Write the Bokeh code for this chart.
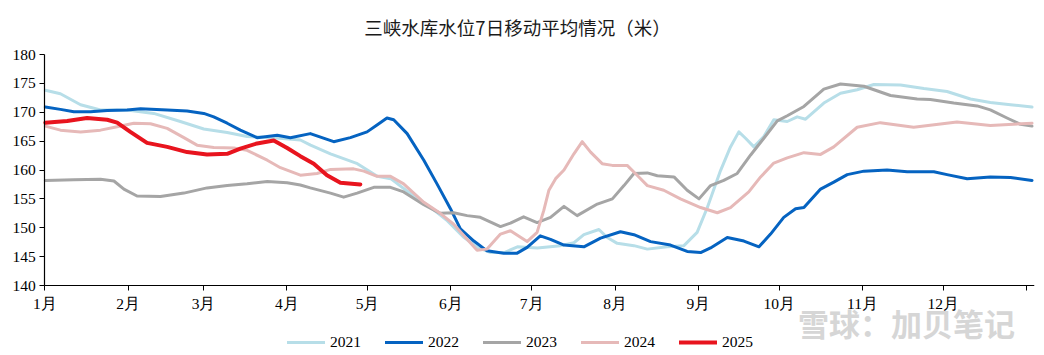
from bokeh.plotting import figure
from bokeh.models import FixedTicker, Legend, LegendItem, Label, Range1d
from bokeh.embed import file_html
from bokeh.resources import INLINE

# ---- data (day of year, 7-day moving average water level in metres) ----
month_labels = ["1月", "2月", "3月", "4月", "5月", "6月", "7月", "8月", "9月", "10月", "11月", "12月"]
month_start_days = [0, 31, 59, 90, 120, 151, 181, 212, 243, 273, 304, 334]
year_end_day = 365
y_ticks = [140, 145, 150, 155, 160, 165, 170, 175, 180]

days_2021 = [0.2, 5.8, 13.3, 20.7, 30.6, 40.5, 50.4, 59.1, 67.8, 75.2, 85.1, 95, 98.8, 106.2, 116.2,
             123.6, 128.6, 136, 143.5, 149.7, 155.9, 160.8, 165.8, 170.8, 175.7, 183.1, 191.7, 196.7,
             200.4, 206, 209.1, 212.8, 219, 224, 231.4, 237.6, 242.5, 246.3, 251.2, 254.9, 258, 260.5,
             263.6, 267.3, 271, 276, 279.7, 282.8, 289.6, 295.8, 302, 308.2, 318.1, 326.8, 335.4,
             344.1, 351.5, 359, 367]
level_2021 = [173.8, 173.2, 171.3, 170.4, 170.4, 169.8, 168.4, 167.1, 166.5, 165.8, 165.6, 165.2, 164.3,
              162.8, 161.1, 158.9, 158.5, 155.9, 153.5, 151.2, 148.3, 146.6, 145.7, 145.7, 146.7, 146.5,
              146.9, 147.4, 148.8, 149.7, 148.3, 147.3, 146.9, 146.3, 146.7, 146.9, 149.2, 153.5, 159.9,
              164.0, 166.6, 165.5, 164.0, 165.8, 168.7, 168.4, 169.2, 168.8, 171.6, 173.3, 173.9, 174.8,
              174.7, 174.1, 173.6, 172.3, 171.7, 171.3, 170.9]

days_2022 = [0.2, 5.8, 10.8, 17, 23.2, 30.6, 35.6, 45.5, 52.9, 59.1, 62.8, 67.8, 72.7, 78.9, 82.7, 86.4,
             91.3, 98.7, 107.4, 113.6, 119.8, 123.5, 127.2, 129.7, 134.7, 140.9, 145.8, 150.8, 154.5,
             159.5, 164.4, 170.6, 175.6, 179.3, 184.2, 188, 193, 200.4, 206.6, 214, 219, 225.2, 232.6,
             238.8, 243.8, 247.5, 253.7, 259.9, 265.5, 269.8, 274.7, 279.1, 282.2, 288.4, 293.3, 298.3,
             304.5, 313.1, 320.6, 330.5, 335.4, 342.9, 351.5, 359, 367]
level_2022 = [170.9, 170.5, 170.1, 170.1, 170.3, 170.4, 170.6, 170.4, 170.2, 169.8, 169.2, 168.1, 166.9,
              165.6, 165.8, 166.0, 165.6, 166.3, 164.9, 165.6, 166.6, 167.8, 169.0, 168.7, 166.3, 161.7,
              157.6, 153.3, 149.8, 147.7, 146.0, 145.6, 145.6, 146.6, 148.6, 148.0, 147.0, 146.7, 148.2,
              149.3, 148.8, 147.6, 147.0, 145.9, 145.7, 146.5, 148.3, 147.7, 146.7, 148.9, 151.8, 153.3,
              153.5, 156.7, 157.9, 159.2, 159.8, 160.0, 159.7, 159.7, 159.2, 158.5, 158.8, 158.7, 158.2]

days_2023 = [0.2, 10.8, 20.7, 25.7, 29.4, 34.3, 43, 51.7, 60.3, 67.8, 75.2, 82.7, 90.1, 95, 98.7, 106.2,
             111.1, 116.1, 122.3, 128.5, 133.4, 140.9, 147, 152, 157, 161.9, 169.4, 173.1, 178, 183, 188,
             193, 197.9, 205.4, 211, 215.3, 219, 224, 227.7, 233.9, 238.8, 243.2, 247.5, 252.4, 257.4,
             262.4, 267.3, 272.3, 276, 282.2, 289.6, 295.8, 304.5, 314.4, 324.3, 329.2, 337.9, 346.6,
             351.5, 357.7, 362.7, 367]
level_2023 = [158.2, 158.3, 158.4, 158.1, 156.7, 155.5, 155.4, 156.0, 156.9, 157.3, 157.6, 158.0, 157.8,
              157.4, 156.9, 156.0, 155.3, 156.0, 157.0, 157.0, 156.2, 154.0, 152.5, 152.6, 152.1, 151.8,
              150.2, 150.8, 151.9, 150.9, 151.8, 153.7, 152.1, 154.1, 155.0, 157.3, 159.4, 159.5, 159.0,
              158.8, 156.5, 155.0, 157.3, 158.2, 159.4, 162.6, 165.5, 168.5, 169.4, 171.0, 174.0, 174.9,
              174.5, 172.9, 172.3, 172.2, 171.6, 171.1, 170.4, 169.0, 167.9, 167.6]

days_2024 = [0.2, 5.8, 13.3, 20.7, 26.9, 33.1, 39.3, 45.5, 51.7, 56.6, 62.8, 70.3, 75.2, 82.7, 87.6, 95,
             101.2, 106.2, 114.8, 118.6, 123.5, 128.5, 133.4, 140.9, 147, 152, 157, 160.7, 164.4, 169.4,
             173.1, 179.3, 183, 185.5, 187.4, 189.9, 193, 196.7, 199.8, 202.9, 207.2, 211, 216.5, 220.2,
             224, 230.1, 236.3, 243.8, 250, 254.9, 261.7, 266.1, 271, 276, 282.2, 288.4, 293.3, 302,
             310.6, 323, 339.1, 351.5, 367]
level_2024 = [167.6, 166.9, 166.6, 166.9, 167.5, 168.1, 168.0, 167.2, 165.6, 164.3, 163.9, 163.8, 163.4,
              161.7, 160.4, 159.1, 159.4, 160.1, 160.2, 159.8, 158.9, 158.9, 157.6, 154.4, 152.5, 150.6,
              148.0, 146.1, 146.3, 148.9, 149.5, 147.6, 149.2, 153.0, 156.5, 158.5, 160.0, 162.8, 164.9,
              163.1, 161.1, 160.8, 160.8, 159.1, 157.3, 156.5, 155.0, 153.5, 152.6, 153.5, 156.2, 158.8,
              161.2, 162.1, 163.0, 162.7, 164.0, 167.4, 168.2, 167.4, 168.3, 167.7, 168.1]

days_2025 = [0.2, 8.3, 15.7, 23.2, 26.9, 31.8, 38, 45.5, 52.9, 60.3, 67.8, 72.7, 78.9, 85.1, 90.1, 95,
             100, 104.9, 109.9, 117.3]
level_2025 = [168.2, 168.5, 169.0, 168.7, 168.2, 166.6, 164.7, 164.0, 163.1, 162.7, 162.8, 163.7, 164.6,
              165.1, 163.8, 162.4, 161.1, 159.1, 157.8, 157.5]

series_names = ["2021", "2022", "2023", "2024", "2025"]
series_days = [days_2021, days_2022, days_2023, days_2024, days_2025]
series_levels = [level_2021, level_2022, level_2023, level_2024, level_2025]
series_colors = ["#B7DEE8", "#0563C1", "#A5A5A5", "#E6B9B8", "#E8141E"]
series_widths = [3, 3, 3, 3, 4]

title_text = "三峡水库水位7日移动平均情况（米）"
watermark_text = "雪球：加贝笔记"

# ---- figure ----
# The frame covers the whole area below the title; the value axis is pinned at day 0
# and bounded to 140-180, the month axis is pinned at 140, leaving room for the
# tick labels on the left and the legend underneath.
px_per_day = 2.69
px_per_m = 231 / 40
x_left = -44.3 / px_per_day
x_right = (1034 - 44.3) / px_per_day
y_bottom = 140 - 70 / px_per_m
y_top = 180 + 10 / px_per_m

p = figure(width=1044, height=355, output_backend="svg", toolbar_location=None,
           x_range=Range1d(x_left, x_right), y_range=Range1d(y_bottom, y_top),
           min_border_left=0, min_border_right=10, min_border_top=44, min_border_bottom=0)
p.outline_line_color = None
p.background_fill_color = "white"
p.border_fill_color = "white"
p.xgrid.visible = False
p.ygrid.visible = False

p.title.text = title_text
p.title.align = "center"
p.title.offset = 14
p.title.text_font = "Noto Sans CJK SC"
p.title.text_font_size = "18.5px"
p.title.text_font_style = "normal"
p.title.text_color = "#1a1a1a"
p.title.standoff = 9

# axes
p.yaxis.ticker = FixedTicker(ticks=y_ticks)
p.yaxis.bounds = (140, 180)
p.yaxis.fixed_location = 0
p.xaxis.ticker = FixedTicker(ticks=month_start_days + [year_end_day])
p.xaxis.fixed_location = 140
p.xaxis.bounds = (0, x_right)
overrides = {d: lab for d, lab in zip(month_start_days, month_labels)}
overrides[year_end_day] = ""
p.xaxis.major_label_overrides = overrides
for ax in (p.xaxis[0], p.yaxis[0]):
    ax.axis_line_color = "black"
    ax.axis_line_width = 1.2
    ax.major_tick_line_color = "black"
    ax.major_tick_in = 0
    ax.major_tick_out = 5
    ax.minor_tick_line_color = None
    ax.major_label_text_font = "Liberation Serif"
    ax.major_label_text_font_size = "15.5px"
    ax.major_label_text_color = "black"
p.xaxis.major_label_standoff = 4
p.yaxis.major_label_standoff = 4

renderers = []
for name, dd, lv, col, lw in zip(series_names, series_days, series_levels, series_colors, series_widths):
    r = p.line(dd, lv, line_color=col, line_width=lw, line_join="round", line_cap="round")
    renderers.append(r)

wm = Label(x=906, y=33, x_units="screen", y_units="screen", text=watermark_text,
           text_font="Noto Sans CJK SC", text_font_size="31px", text_font_style="bold",
           text_color="#D6D6D6", text_align="center", text_baseline="middle")
p.add_layout(wm)

legend = Legend(items=[LegendItem(label=n, renderers=[r]) for n, r in zip(series_names, renderers)],
                orientation="horizontal", location=(287, 4),
                glyph_width=38, glyph_height=16, label_height=16, label_standoff=5, spacing=24,
                label_text_font="Liberation Serif", label_text_font_size="15.5px",
                label_text_color="black", padding=0, margin=0,
                border_line_color=None, background_fill_alpha=0)
p.add_layout(legend, "center")

open("out.html", "w").write(file_html(p, INLINE))
